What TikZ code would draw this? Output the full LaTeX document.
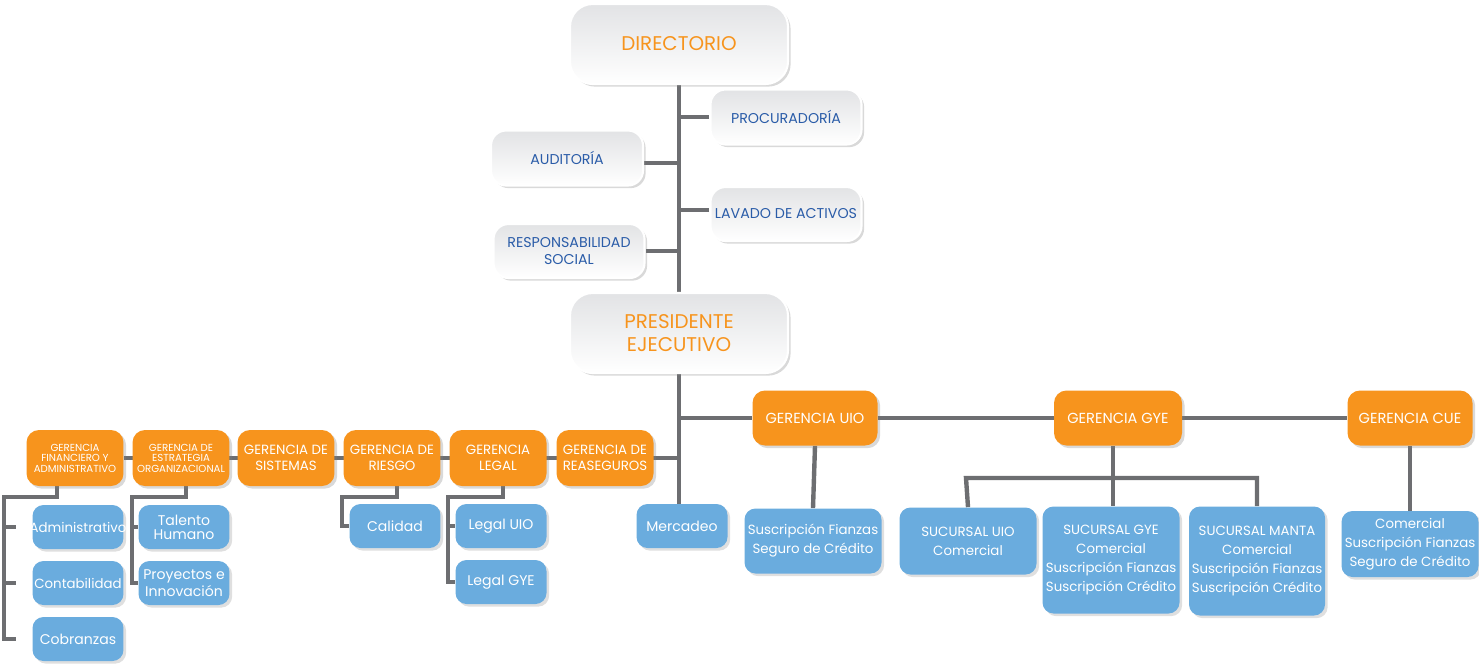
\documentclass[tikz,border=0pt]{standalone}
\usepackage{fontspec}
\setmainfont{Poppins}
\usetikzlibrary{shadows,backgrounds,calc}
\definecolor{orng}{HTML}{F7941D}
\definecolor{blu}{HTML}{6AACDE}
\definecolor{dblue}{HTML}{2A5CA8}
\definecolor{lgray}{HTML}{6D6E71}
\definecolor{gtop}{HTML}{E2E3E5}
\begin{document}
\begin{tikzpicture}[x=0.02cm,y=-0.02cm,
  every node/.style={align=center,inner sep=1pt},
  gbox/.style={rounded corners=0.3cm,top color=gtop,bottom color=white,draw=white,line width=1.2pt,
    drop shadow={opacity=0.3,shadow xshift=1.5pt,shadow yshift=-1.5pt},text=dblue,
    font=\fontsize{8.1}{10}\selectfont},
  bigbox/.style={gbox,rounded corners=0.45cm,minimum width=4.36cm,minimum height=1.6cm,text=orng,
    font=\fontsize{11.3}{13.6}\selectfont},
  obox/.style={rounded corners=0.25cm,fill=orng,text=white,
    drop shadow={opacity=0.3,shadow xshift=1.5pt,shadow yshift=-1.5pt},
    minimum width=1.94cm,minimum height=1.12cm,font=\fontsize{7.6}{9}\selectfont},
  osmall/.style={obox,font=\fontsize{5.8}{6}\selectfont},
  obig/.style={obox,minimum width=2.5cm,minimum height=1.1cm,font=\fontsize{8.3}{9}\selectfont},
  bbox/.style={rounded corners=0.22cm,fill=blu,text=white,
    drop shadow={opacity=0.25,shadow xshift=1.5pt,shadow yshift=-1.5pt},
    minimum width=1.82cm,minimum height=0.88cm,font=\fontsize{8}{8}\selectfont},
  bwide/.style={bbox,minimum width=2.74cm,font=\fontsize{7.6}{10.8}\selectfont},
  conn/.style={draw=lgray,line width=2.5pt}
]
\useasboundingbox (0,0) rectangle (1479,664);
% top
\node[bigbox] (dir) at (679,44) {DIRECTORIO};
\node[gbox,minimum width=3.02cm,minimum height=1.1cm] (proc) at (786,117) {PROCURADORÍA};
\node[gbox,minimum width=3.04cm,minimum height=1.1cm] (aud) at (567,158) {AUDITORÍA};
\node[gbox,minimum width=3.02cm,minimum height=1.08cm] (lav) at (786,214) {LAVADO DE ACTIVOS};
\node[gbox,minimum width=3.02cm,minimum height=1.08cm] (resp) at (569,251) {RESPONSABILIDAD\\SOCIAL};
\node[bigbox] (pres) at (679,333) {PRESIDENTE\\EJECUTIVO};
% orange row left
\node[osmall] (gfa) at (75,458) {GERENCIA\\FINANCIERO Y\\ADMINISTRATIVO};
\node[osmall] (geo) at (181,458) {GERENCIA DE\\ESTRATEGIA\\ORGANIZACIONAL};
\node[obox] (gsis) at (286,458) {GERENCIA DE\\SISTEMAS};
\node[obox] (grie) at (392,458) {GERENCIA DE\\RIESGO};
\node[obox] (gleg) at (498,458) {GERENCIA\\LEGAL};
\node[obox] (grea) at (605,458) {GERENCIA DE\\REASEGUROS};
% orange row right
\node[obig] (guio) at (815,418) {GERENCIA UIO};
\node[obig,minimum width=2.56cm] (ggye) at (1118,418) {GERENCIA GYE};
\node[obig] (gcue) at (1410,418) {GERENCIA CUE};
% blue boxes
\node[bbox,font=\fontsize{7.6}{8}\selectfont] (adm) at (78,527) {\makebox[1.7cm]{Administrativo}};
\node[bbox,font=\fontsize{7.6}{8}\selectfont] (cont) at (78,583) {\makebox[1.7cm]{Contabilidad}};
\node[bbox] (cob) at (78,639) {Cobranzas};
\node[bbox] (tal) at (184,527) {Talento\\Humano};
\node[bbox] (proy) at (184,583) {Proyectos e\\Innovación};
\node[bbox] (cal) at (395,526) {Calidad};
\node[bbox] (luio) at (501,526) {Legal UIO};
\node[bbox] (lgye) at (501,582) {Legal GYE};
\node[bbox] (merc) at (682,526) {Mercadeo};
\node[bwide,minimum height=1.3cm] (uioc) at (813,541) {Suscripción Fianzas\\Seguro de Crédito};
\node[bwide,minimum height=1.34cm] (suio) at (968,541) {SUCURSAL UIO\\Comercial};
\node[bwide,minimum height=2.14cm] (sgye) at (1111,560) {SUCURSAL GYE\\Comercial\\Suscripción Fianzas\\Suscripción Crédito};
\node[bwide,minimum width=2.72cm,minimum height=2.18cm] (sman) at (1257,561) {SUCURSAL MANTA\\Comercial\\Suscripción Fianzas\\Suscripción Crédito};
\node[bwide,minimum height=1.32cm] (cuec) at (1410,544) {Comercial\\Suscripción Fianzas\\Seguro de Crédito};
% connectors
\coordinate (faL) at (4,497);
\coordinate (eoL) at (132,497);
\coordinate (rL) at (342,497);
\coordinate (lL) at (448,497);
\coordinate (gh) at (966,478);
\begin{scope}[on background layer]
\draw[conn] (dir.south) -- (pres.north);
\draw[conn] (pres.south) -- (pres.south |- merc.north);
\draw[conn] (proc.west) -- (proc.west -| dir.south);
\draw[conn] ([yshift=-0.1cm]aud.east) -- ([yshift=-0.1cm]aud.east -| dir.south);
\draw[conn] ([yshift=0.08cm]lav.west) -- ([yshift=0.08cm]lav.west -| dir.south);
\draw[conn] (resp.east) -- (resp.east -| dir.south);
\draw[conn] (pres.south |- guio.west) -- (guio.west);
\draw[conn] (guio.east) -- (ggye.west);
\draw[conn] (ggye.east) -- (gcue.west);
\draw[conn] (pres.south |- grea.east) -- (gfa.east);
\draw[conn] ([xshift=-0.36cm]gfa.south) |- (faL) |- ([xshift=-0.32cm]cob.west);
\draw[conn] (faL |- adm.west) -- ([xshift=-0.32cm]adm.west);
\draw[conn] (faL |- cont.west) -- ([xshift=-0.32cm]cont.west);
\draw[conn] ([xshift=0.1cm]geo.south) |- (eoL) |- (proy.west);
\draw[conn] (eoL |- tal.west) -- (tal.west);
\draw[conn] ([xshift=0.1cm]grie.south) |- (rL) |- (cal.west);
\draw[conn] ([xshift=0.1cm]gleg.south) |- (lL) |- (lgye.west);
\draw[conn] (lL |- luio.west) -- (luio.west);
\draw[conn] (guio.south) -- (uioc.north);
\draw[conn] (gcue.south) -- (gcue.south |- cuec.north);
\draw[conn] ([xshift=-0.1cm]ggye.south) -- ([xshift=-0.1cm]ggye.south |- sgye.north);
\draw[conn] (suio.north) -- (gh) -- (gh -| sman.north) -- (sman.north);
\end{scope}
\end{tikzpicture}
\end{document}
